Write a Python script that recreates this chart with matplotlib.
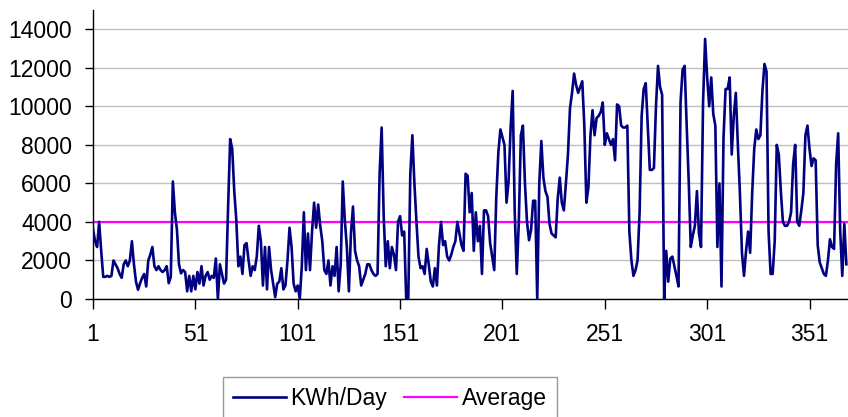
import matplotlib.pyplot as plt

plt.rcParams['font.family'] = ['Liberation Sans', 'DejaVu Sans']

# daily energy use (day 1 .. day 369)
kwh_day = [
    3650, 3000, 2700, 4000, 2500, 1150, 1150, 1200, 1150, 1200,
    2000, 1800, 1600, 1300, 1100, 1800, 2000, 1700, 2000, 3000,
    1800, 900, 480, 820, 1100, 1300, 650, 2000, 2300, 2700,
    1700, 1500, 1700, 1500, 1400, 1500, 1700, 820, 1150, 6100,
    4500, 3600, 1800, 1330,
    1500, 1400, 400, 1200, 400, 1200, 500, 1400, 800, 1700,
    700, 1200, 1400, 1000, 1200, 1100, 2100, 0, 1800, 1300,
    800, 1000, 4800, 8300, 7800, 5600, 4100, 1700, 2200, 1300,
    2800, 2900, 2000, 1200, 1700, 1500, 2200, 3800, 3000, 700,
    2700, 500, 2700, 1500, 800, 100,
    800, 900, 1600, 500, 700, 2000, 3700, 2700, 800, 400,
    700, 0, 1700, 4500, 1500, 3400, 1500, 3500, 5000, 3700,
    4900, 3800, 3000, 1500, 1300, 2000, 700, 1700, 1200, 2700,
    400, 1800, 6100, 4100, 2700, 400, 3400, 4800, 2500, 2000,
    1700, 700, 1000, 1300, 1800, 1800, 1500, 1300, 1200,
    1300, 6500, 8900, 4300, 1700, 3000, 1600, 2700, 2300, 1500,
    4000, 4300, 3300, 3500, 0, 0, 6500, 8500, 6000, 4000,
    2200, 1600, 1700, 1300, 2600, 1800, 900, 650, 1600, 700,
    2800, 4000, 2800, 3000, 2200, 2000, 2300, 2700, 3000, 4000,
    3400, 2800, 2500, 6500,
    6400, 4500, 5500, 2500, 4500, 3000, 3800, 1300, 4600, 4600,
    4300, 2900, 2200, 1500, 5300, 7600, 8800, 8400, 8000, 5000,
    6100, 8900, 10800, 4500, 1300, 4000, 8500, 9000, 6000, 4000,
    3050, 3600, 5100, 5100, 0, 6000, 8200, 6300, 5600, 5300,
    3900, 3400, 3300, 3200, 5200, 6300, 5000,
    4600, 6000, 7500, 9900, 10700, 11700, 11100, 10700, 11000, 11300,
    9000, 5000, 5800, 8500, 9800, 8500, 9400, 9500, 9700, 10200,
    8000, 8600, 8300, 8000, 8300, 7200, 10100, 10000, 9000, 8900,
    8900, 9000, 3500, 2000, 1200, 1500, 2000, 4500, 9500, 10900,
    11200, 9000, 6700, 6700, 6800, 10000, 12100, 11000, 10600,
    0, 2500, 900, 2100, 2200, 1700, 1200, 650, 10200, 11900,
    12100, 9000, 6100, 2700, 3300, 3800, 5600, 3400, 2700, 10200,
    13500, 11500, 10000, 11500, 9600, 9000, 2700, 6000, 650, 8400,
    10900, 10900, 11500, 7500, 9500, 10700, 8000, 5500, 2400, 1200,
    2500, 3500, 2400, 5500, 7800, 8800,
    8300, 8500, 10800, 12200, 11800, 3500, 1300, 1300, 3000, 8000,
    7500, 5600, 4000, 3800, 3800, 4000, 4500, 7000, 8000, 4000,
    3800, 4600, 5500, 8500, 9000, 7800, 6900, 7300, 7200, 2800,
    1900, 1600, 1300, 1200, 2000, 3100, 2700, 2600, 7000, 8600,
    3500, 1200, 3900, 1800,
]
average_kwh = 4020

x_ticks = [1, 51, 101, 151, 201, 251, 301, 351]
y_ticks = [0, 2000, 4000, 6000, 8000, 10000, 12000, 14000]

days = list(range(1, len(kwh_day) + 1))

fig = plt.figure(figsize=(8.48, 4.17), dpi=100)
ax = fig.add_axes([93 / 848, 118 / 417, 755 / 848, 289 / 417])

ax.plot(days, kwh_day, color='#000080', lw=1.9, label='KWh/Day', zorder=3)
ax.axhline(average_kwh, color='#ff00ff', lw=1.6, label='Average', zorder=2)

ax.set_xlim(1, 369.8)
ax.set_ylim(0, 15000)
ax.set_xticks(x_ticks)
ax.set_yticks(y_ticks)

ax.yaxis.grid(True, color='#c0c0c0', lw=1)
ax.set_axisbelow(True)
for side in ['top', 'right']:
    ax.spines[side].set_visible(False)
for side in ['left', 'bottom']:
    ax.spines[side].set_color('black')
    ax.spines[side].set_linewidth(1)

ax.tick_params(axis='y', direction='out', length=6, width=1, labelsize=16.5, pad=9)
ax.tick_params(axis='x', direction='out', length=7, width=1, labelsize=16.5, pad=10)

fig.legend(loc='upper left', bbox_to_anchor=(222.7 / 848, 1 - 376.7 / 417),
           ncol=2, frameon=True, fancybox=False, edgecolor='#808080',
           fontsize=16.5, handlelength=2.3, handletextpad=0.2,
           columnspacing=0.75, borderpad=0.45, borderaxespad=0)

fig.savefig('out.png', dpi=100)
